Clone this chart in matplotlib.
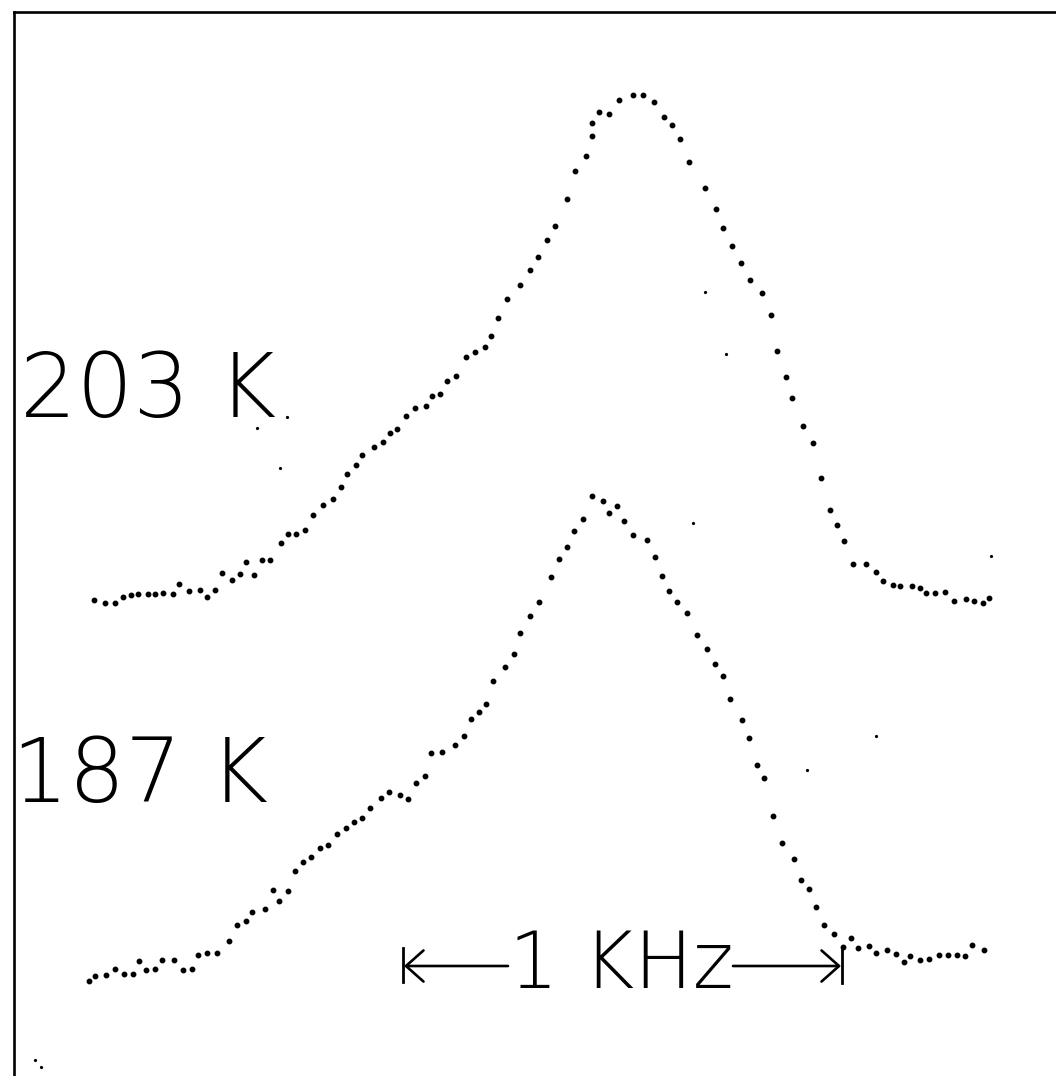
import matplotlib
matplotlib.use("Agg")
import matplotlib.pyplot as plt

# spectrum at 203 K (channel, offset down from top of frame)
x_203 = [94.3, 104.7, 115, 123.3, 131, 138, 148, 155, 163.3, 173, 179.3, 188.7, 199.7, 206.7,
         215, 221.7, 232, 240, 246, 253.7, 262, 270.3, 280.5, 287.7, 295.7, 304.7, 313, 323.3,
         332.7, 341.3, 347, 356, 362.3, 373.7, 383, 390, 397.3, 405.7, 415, 425.7, 432.3, 439.7,
         447, 456.3, 465.7, 475.3, 484.7, 491, 497.7, 507, 519.5, 530.3, 537.7, 547, 555.3, 567.3,
         575.3, 585.7, 591.7, 591.7, 599, 609, 619.3, 632.7, 643.3, 654.3, 664.3, 672.3, 680, 689,
         705, 716, 722.5, 731.5, 741.3, 749.7, 761.7, 771, 776.8, 785.7, 792.3, 802.7, 813.3,
         820.7, 829.7, 837, 844.3, 852.7, 865.7, 876, 883.3, 893, 900.3, 912.3, 920, 926, 934.7,
         945.3, 954.3, 966, 974.3, 982.7, 989.3]
y_203 = [600, 602.7, 603, 597, 595.3, 594, 594.3, 594, 593, 594, 583.7, 590.7, 589.7, 597.3,
         590.3, 573, 580.3, 574, 562.3, 575, 560.3, 560.3, 543, 533.7, 534.3, 529.7, 515.3, 504.7,
         499.3, 486.7, 474, 465.3, 455.3, 446.7, 441.7, 433.3, 429.3, 416, 408, 406.3, 396, 394.3,
         380.7, 375.7, 356.7, 352, 346.7, 336, 318, 299.3, 285.2, 270, 256.7, 239.7, 226.3, 199.3,
         170.7, 156, 136.3, 122.7, 112, 113.7, 100, 95.3, 94.7, 102, 117, 125.3, 139.3, 162.3,
         187.7, 209, 227.7, 245.5, 263.3, 279.8, 293, 314.8, 350.5, 377, 398, 426.3, 443,
         478, 510.3, 525.3, 541.3, 563.7, 564, 572, 581.3, 584.7, 586, 586.3, 588, 593.3, 592.7,
         592, 601, 599.3, 601.3, 603, 598]

# spectrum at 187 K
x_187 = [89.3, 95.3, 106, 114.7, 124.3, 132.7, 139, 146, 155.3, 162.3, 174.3, 182.7, 191.7, 197.7,
         207, 216.7, 229.3, 236.7, 245.7, 252, 265.3, 272.7, 279.3, 288, 295.3, 303, 311, 320, 328,
         337, 346, 354, 362, 370, 381, 389.3, 400, 408.2, 415.5, 424.5, 431, 441.7, 454.7, 463.7,
         471, 479.3, 486, 493, 505, 513.7, 520.3, 529.7, 539, 551, 558.7, 567.3, 574, 582.5, 591.7,
         603, 609.3, 616.7, 624, 632.7, 646.7, 654.7, 661.7, 669.3, 676.7, 687, 697.3, 707, 715,
         722.7, 729.7, 741.7, 748.7, 757.3, 763.8, 773, 781.5, 794, 801, 809, 816, 824.3, 833.7,
         842.7, 850.7, 858, 868.7, 875.7, 887.3, 896, 903.7, 910.3, 919.7, 928.7, 939, 947.7, 957,
         964.7, 971.7, 984.3]
y_187 = [980.7, 975.7, 975.3, 969.3, 974, 974, 960.7, 970, 969.3, 960, 960.3, 970.3, 969.3, 955,
         953.3, 953.3, 941, 925, 921, 912, 908.7, 889.7, 901.3, 891, 871.3, 862, 857, 848, 845,
         834, 828, 822, 818, 808, 797.7, 792.3, 794.5, 798.8, 782.7, 776, 753.3, 752.3, 744.8, 735.7,
         718.7, 712, 704, 681.3, 667, 653.7, 633.3, 616, 602, 577, 559.3, 547.3, 531, 519.3, 495.7,
         500.7, 513.2, 506, 520.7, 535.3, 540, 557, 576.3, 591, 602.3, 612.7, 634.7, 649, 663.7,
         676.3, 699.3, 720.3, 737.7, 765.3, 777.8, 816, 842.5, 858.5, 880.3, 889.3, 907, 925, 934.3,
         946.7, 938, 947.7, 945.7, 953.3, 949.7, 954.3, 961.7, 956, 960, 958.7, 954.7, 955, 955.3,
         955.7, 945.3, 950.3]

# scan specks
speck_x = [35, 40.7, 256.7, 279.7, 287.3, 693, 705, 725.5, 806.7, 876, 990.7]
speck_y = [1060, 1066.7, 427.7, 467.7, 416.7, 523, 291.7, 354.2, 770, 736, 555.7]

labels = ["203 K", "187 K"]
scale_text = "1 KHz"

W, H = 1056, 1076
fig = plt.figure(figsize=(W / 100, H / 100), dpi=100)
ax = fig.add_axes([14 / W, 0, 1 - 14 / W, (H - 12) / H])
ax.set_xlim(14, W)
ax.set_ylim(H, 12)
for s in ("right", "bottom"):
    ax.spines[s].set_visible(False)
for s in ("left", "top"):
    ax.spines[s].set_linewidth(1.9)
ax.set_xticks([])
ax.set_yticks([])

ax.plot(x_203, y_203, "o", ms=3.2, color="black", clip_on=False)
ax.plot(x_187, y_187, "o", ms=3.2, color="black", clip_on=False)
ax.plot(speck_x, speck_y, "o", ms=1.3, color="black", clip_on=False)

fnt = dict(family=["DejaVu Sans"], fontweight="ultralight")
ax.text(20, 417, labels[0], fontsize=64, ha="left", va="baseline", **fnt)
ax.text(12, 802, labels[1], fontsize=64, ha="left", va="baseline", **fnt)

# 1 kHz scale bar
ax.text(621, 988, scale_text, fontsize=56, ha="center", va="baseline", **fnt)
ax.plot([403, 403], [948, 982], color="black", lw=2)
ax.plot([842, 842], [950, 983], color="black", lw=2)
arrow = dict(arrowstyle="->,head_length=0.45,head_width=0.4", lw=1.9, mutation_scale=28,
             color="black", shrinkA=0, shrinkB=0)
ax.annotate("", xy=(404, 966), xytext=(508, 966), arrowprops=arrow)
ax.annotate("", xy=(841, 966), xytext=(733, 966), arrowprops=arrow)

fig.savefig("out.png", dpi=100)
